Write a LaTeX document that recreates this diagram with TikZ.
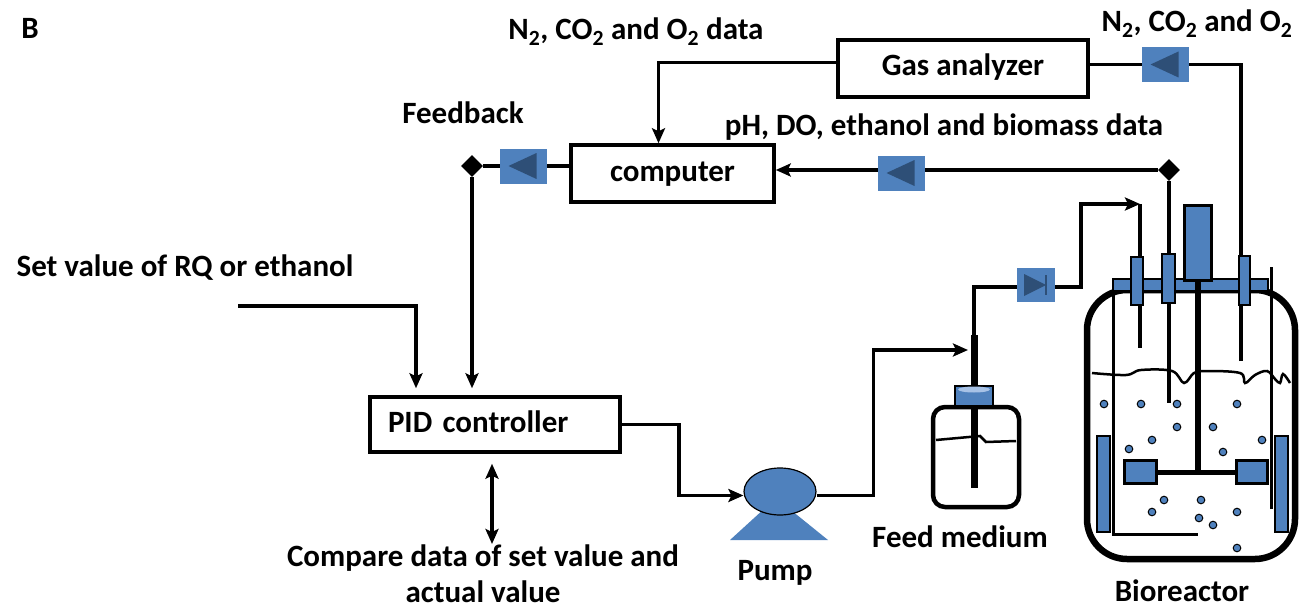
\documentclass[tikz,border=0pt]{standalone}
\usepackage{fontspec}
\setmainfont{Carlito}
\usetikzlibrary{arrows.meta,shapes.geometric}
\definecolor{vblue}{HTML}{4F81BD}
\definecolor{vdark}{HTML}{2E4F77}
\definecolor{vlight}{HTML}{A7C2E6}
\tikzset{
	lbl/.style={font=\fontsize{31}{36}\selectfont\bfseries, inner sep=0pt, anchor=base},
	box/.style={draw, line width=3.5pt, inner sep=0pt, minimum height=57pt, text height=21pt, text depth=6pt, font=\fontsize{31}{36}\selectfont\bfseries},
	wire/.style={line width=3.5pt},
	arr/.style={wire, -{Stealth[length=15pt,width=13pt,inset=3pt]}},
	dbl/.style={wire, {Stealth[length=15pt,width=13pt,inset=3pt]}-{Stealth[length=15pt,width=13pt,inset=3pt]}},
	dot/.style={diamond, fill, inner sep=0pt, minimum size=22pt},
	valve/.style={fill=vblue, inner sep=0pt, minimum width=47pt, minimum height=35pt},
	valveL/.style={valve, path picture={
		\fill[vdark] ([xshift=9pt]path picture bounding box.west) -- ([xshift=-10pt,yshift=13pt]path picture bounding box.east) -- ([xshift=-10pt,yshift=-13pt]path picture bounding box.east) -- cycle;}},
	valveR/.style={fill=vblue, inner sep=0pt, minimum width=38pt, minimum height=34pt, path picture={
		\fill[vdark] ([xshift=7pt,yshift=11pt]path picture bounding box.west) -- ([xshift=-9pt]path picture bounding box.east) -- ([xshift=7pt,yshift=-11pt]path picture bounding box.west) -- cycle;
		\draw[vdark, line width=2pt] ([xshift=-9pt,yshift=10pt]path picture bounding box.east) -- ([xshift=-9pt,yshift=-10pt]path picture bounding box.east);}},
	part/.style={draw, fill=vblue, line width=2pt},
	bubble/.style={draw, fill=vblue, line width=1pt},
}

\begin{document}
\begin{tikzpicture}[x=1pt, y=-1pt]
	\useasboundingbox (0,0) rectangle (1299,610);

	\node[lbl] (tag) at (30,39) {B};
	\node[lbl] (gasdata) at (636,40) {N\textsubscript{2}, CO\textsubscript{2} and O\textsubscript{2} data};
	\node[lbl] (gasout) at (1197,32) {N\textsubscript{2}, CO\textsubscript{2} and O\textsubscript{2}};
	\node[lbl] (probedata) at (944,135) {pH, DO, ethanol and biomass data};
	\node[lbl] (fb) at (463,123) {Feedback};
	\node[lbl] (setval) at (185,276) {Set value of RQ or ethanol};
	\node[lbl, anchor=north, align=center] (cmp) at (483,545) {Compare data of set value and\\actual value};
	\node[lbl] (pumplbl) at (775,580) {Pump};
	\node[lbl] (feedlbl) at (960,547) {Feed medium};
	\node[lbl] (reactorlbl) at (1182,601) {Bioreactor};

	\node[box, minimum width=250pt] (gas) at (963,68.5) {Gas analyzer};
	\node[box, minimum width=203pt] (comp) at (672.5,173.5) {computer};
	\node[box, minimum height=55pt, text width=214pt, align=left, inner xsep=18pt] (pid) at (495,424.5) {PID controller};

	% pump
	\fill[vblue] (730,540) -- (828,540) -- (776,498) -- cycle;
	\node[ellipse, draw, fill=vblue, line width=1.2pt, minimum width=72pt, minimum height=47pt, inner sep=0pt] (pump) at (780,491.5) {};

	\node[dot] (fbdot) at (472,166) {};
	\node[dot] (pdot) at (1169,170) {};
	\coordinate (setin) at (238,306);
	\coordinate (cmpin) at (492,544);
	\coordinate (feedin) at (968,350);
	\coordinate (tubetop) at (974,335);
	\coordinate (inlet) at (1140,204);
	\coordinate (p1end) at (1140,348);
	\coordinate (p2end) at (1169,403);
	\coordinate (p3end) at (1241,361);

	\draw[arr] ([yshift=6pt]gas.west) -| ([xshift=-14pt]comp.north);
	\draw[wire] (p3end) |- ([yshift=4pt]gas.east);
	\draw[arr] (pdot) -- (pdot -| comp.east);
	\draw[wire] (pdot) -- (p2end);
	\draw[wire] (comp.west |- fbdot) -- (fbdot);
	\draw[arr, shorten >=7pt] (fbdot) -- (fbdot |- pid.north);
	\draw[arr, shorten >=7pt] (setin) -| ([xshift=-79pt]pid.north);
	\draw[dbl, shorten <=10pt] ([xshift=-3pt]pid.south) -- (cmpin);
	\draw[arr] (pid.east) -- ++(57,0) |- ([yshift=-4pt]pump.west);
	\draw[arr] ([yshift=-4pt]pump.east) -- ++(57,0) |- (feedin);
	\draw[arr] (tubetop) |- (1081,287) |- (inlet);
	\draw[wire] (inlet) -- (p1end);

	\node[valveL] (gvalve) at (1165,64.5) {};
	\node[valveL] (pvalve) at (901,173) {};
	\node[valveL] (fbvalve) at (523,166) {};
	\node[valveR] (fvalve) at (1036,285) {};

	% feed bottle
	\draw[line width=7pt] (tubetop) -- (974,488);
	\draw[line width=4.5pt, rounded corners=12pt] (933,407) rectangle (1019,507);
	\draw[line width=2.5pt] (936,440) -- (980,436) -- (986,442) -- (1016,441);
	\draw[line width=2.5pt, fill=vblue] (955,386) rectangle (993,406);
	\fill[vlight] (974,389.5) ellipse (16 and 3);

	% bioreactor
	\draw[line width=6.5pt, rounded corners=40pt] (1087,290) rectangle (1295,559);
	\draw[line width=2.5pt] plot[smooth, tension=0.6] coordinates {(1092,373) (1126,375) (1141,370) (1172,371) (1184,383) (1194,373) (1206,371) (1240,373) (1245,383) (1255,375) (1267,371) (1275,379) (1280,383) (1283,374) (1290,383)};
	\draw[line width=3pt] (1113,291) -- (1113,534) -- (1198,534);
	\draw[line width=3pt] (1271,267) -- (1271,509);
	\draw[part] (1113,279) rectangle (1268,291);
	\draw[part] (1131,257) rectangle (1143,305);
	\draw[part] (1162,254) rectangle (1175,303);
	\draw[part] (1239,256) rectangle (1250,305);
	\draw[part, line width=3pt] (1184,205) rectangle (1211,280);
	\draw[line width=6pt] (1198,280) -- (1198,472);
	\draw[line width=5pt] (1155,472) -- (1236,472);
	\draw[part, line width=3pt] (1124,460) rectangle (1156,483);
	\draw[part, line width=3pt] (1236,460) rectangle (1267,483);
	\draw[part, line width=2.5pt] (1097,436) rectangle (1110,532);
	\draw[part, line width=2.5pt] (1275,436) rectangle (1288,532);
	\foreach \x/\y in {1104/404, 1141/404, 1177/404, 1237/404, 1177/427, 1213/427, 1152/440, 1262/440, 1129/449, 1223/452, 1164/500, 1201/500, 1152/512, 1237/512, 1199/518, 1213/525, 1237/548}
		\draw[bubble] (\x,\y) circle (3.8);
\end{tikzpicture}
\end{document}
